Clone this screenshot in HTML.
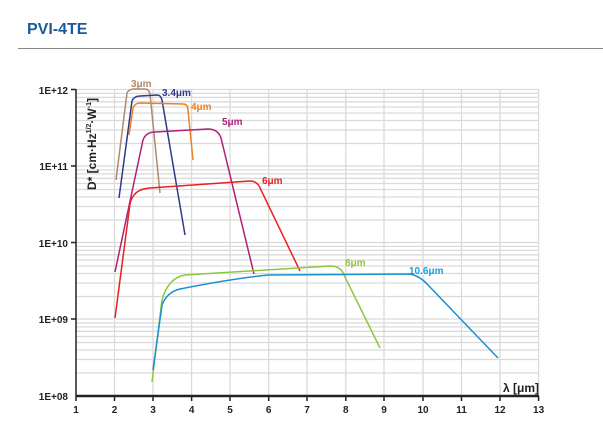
<!DOCTYPE html>
<html><head><meta charset="utf-8"><style>
body{margin:0;background:#fff;width:603px;height:440px;overflow:hidden;font-family:"Liberation Sans",sans-serif}
</style></head><body>
<svg width="603" height="440" xmlns="http://www.w3.org/2000/svg" font-family="Liberation Sans, sans-serif">
<text x="27" y="34" font-size="16" font-weight="bold" fill="#1a5a9c">PVI-4TE</text>
<line x1="18" y1="48.5" x2="603" y2="48.5" stroke="#888" stroke-width="1"/>
<g stroke="#dadada" stroke-width="1.3">
<line x1="114.5" y1="89" x2="114.5" y2="396"/><line x1="153" y1="89" x2="153" y2="396"/><line x1="191.6" y1="89" x2="191.6" y2="396"/><line x1="230" y1="89" x2="230" y2="396"/><line x1="268.7" y1="89" x2="268.7" y2="396"/><line x1="307" y1="89" x2="307" y2="396"/><line x1="345.8" y1="89" x2="345.8" y2="396"/><line x1="384" y1="89" x2="384" y2="396"/><line x1="423" y1="89" x2="423" y2="396"/><line x1="461.5" y1="89" x2="461.5" y2="396"/><line x1="500" y1="89" x2="500" y2="396"/><line x1="538.6" y1="89" x2="538.6" y2="396"/>
</g>
<g stroke="#dadada" stroke-width="1.3">
<path d="M76,89.5H539M76,166H539M76,242.5H539M76,319H539
M76,373H539M76,359.5H539M76,350H539M76,342.5H539M76,336.5H539M76,331.3H539M76,326.9H539M76,322.9H539
M76,296.5H539M76,283H539M76,273.5H539M76,266H539M76,260H539M76,254.8H539M76,250.4H539M76,246.4H539
M76,220H539M76,206.5H539M76,197H539M76,189.5H539M76,183.5H539M76,178.3H539M76,173.9H539M76,169.9H539
M76,143.5H539M76,130H539M76,120.5H539M76,113H539M76,107H539M76,101.8H539M76,97.4H539M76,93.4H539"/>
</g>
<g stroke="#222" fill="none">
<line x1="76" y1="89" x2="76" y2="396" stroke-width="1.5"/>
<line x1="76" y1="396" x2="539" y2="396" stroke-width="2.5"/>
<path d="M71,89.5H76M71,166H76M71,242.5H76M71,319H76" stroke-width="1.5"/>
<path d="M76,396v5M114.5,396v5M153,396v5M191.6,396v5M230,396v5M268.7,396v5M307,396v5M345.8,396v5M384,396v5M423,396v5M461.5,396v5M500,396v5M538.6,396v5" stroke-width="1.5"/>
</g>
<g font-size="10" font-weight="bold" fill="#222" text-anchor="end">
<text x="68" y="94">1E+12</text><text x="68" y="170">1E+11</text><text x="68" y="247">1E+10</text><text x="68" y="323">1E+09</text><text x="68" y="400">1E+08</text>
</g>
<text x="503" y="392" font-size="12" font-weight="bold" fill="#222">λ [μm]</text>
<text transform="translate(96,190) rotate(-90)" font-size="12" font-weight="bold" fill="#222">D* [cm·Hz<tspan font-size="7" dy="-5">1/2</tspan><tspan dy="5">·W</tspan><tspan font-size="7" dy="-5">-1</tspan><tspan dy="5">]</tspan></text>
<g fill="none" stroke-width="1.5">
<path stroke="#b08a6a" d="M116,180 L127,93 Q129,89 134,89 L145,89 Q149,89 150,94 L160,193"/>
<path stroke="#2e3a8a" d="M119,198 L132,101 Q134,96 140,96 L157,95 Q161,95 162,100 L185,235"/>
<path stroke="#f08020" d="M129,135 L133,108 Q135,103 140,103 L183,104 Q188,104 188,110 L193,160"/>
<path stroke="#b0207a" d="M115,272 L143,140 Q146,132 155,132 L208,129 Q218,129 221,138 L254,274"/>
<path stroke="#e82020" d="M115,318 L130,204 Q133,189 150,188 L250,181 Q258,181 261,190 L300,271"/>
<path stroke="#8ec63f" d="M152,382 L162,300 Q168,278 185,275 L330,266 Q341,266 344,275 L380,348"/>
<path stroke="#1a8fd0" d="M153,370 L162,305 Q167,292 180,289 Q230,279 268,275 L410,274 Q420,276 428,285 L498,358"/>
</g>
<g font-size="10" font-weight="bold">
<text x="131" y="87" fill="#b08a6a">3μm</text>
<text x="162" y="96" fill="#2e3a8a">3.4μm</text>
<text x="191" y="110" fill="#f08020">4μm</text>
<text x="222" y="125" fill="#b0207a">5μm</text>
<text x="262" y="184" fill="#e82020">6μm</text>
<text x="345" y="266" fill="#8ec63f">8μm</text>
<text x="409" y="274" fill="#1a9fe0">10.6μm</text>
</g>
<g font-size="10" font-weight="bold" fill="#222" text-anchor="middle">
<text x="76" y="413">1</text><text x="114.5" y="413">2</text><text x="153" y="413">3</text><text x="191.6" y="413">4</text><text x="230" y="413">5</text><text x="268.7" y="413">6</text><text x="307" y="413">7</text><text x="345.8" y="413">8</text><text x="384" y="413">9</text><text x="423" y="413">10</text><text x="461.5" y="413">11</text><text x="500" y="413">12</text><text x="538.6" y="413">13</text>
</g>
</svg>
</body></html>
